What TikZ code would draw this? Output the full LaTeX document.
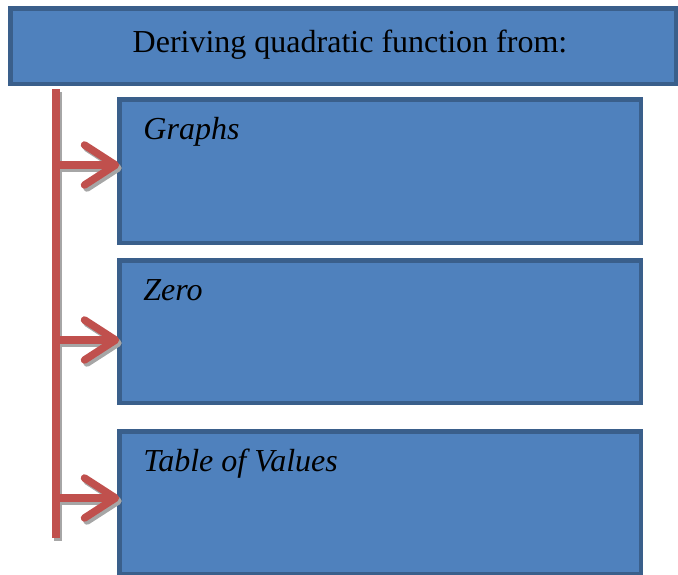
\documentclass[tikz,border=0pt]{standalone}
\usepackage{fontspec}
\setmainfont{Liberation Serif}
\usetikzlibrary{arrows.meta,positioning,calc}
\definecolor{boxfill}{HTML}{4F81BD}
\definecolor{boxedge}{HTML}{3A5F8B}
\definecolor{linkred}{HTML}{C0504D}
\definecolor{shadowgray}{HTML}{A6A6A6}

\begin{document}
\begin{tikzpicture}[x=1pt, y=-1pt,
    panel/.style={draw=boxedge, fill=boxfill, line width=4.5pt, inner sep=0pt, outer sep=0pt},
    caption/.style={anchor=base west, inner sep=0pt, font=\fontsize{32}{38}\selectfont\itshape},
    link/.style={linkred, line width=7.5pt, -{Straight Barb[length=31pt, width=40pt, round]}},
    linkshadow/.style={shadowgray, line width=7.5pt, -{Straight Barb[length=31pt, width=40pt, round]},
      transform canvas={shift={(2.5,3)}}}]
    \useasboundingbox (0,0) rectangle (678,574);
    % --- title bar ---
    \node[panel, minimum width=665.5pt, minimum height=75.5pt] (title) at (343,46) {};
    \node[anchor=base, inner sep=0pt, font=\fontsize{32}{38}\selectfont] (titletext) at (350,52)
      {Deriving quadratic function from:};
    % --- the three panels ---
    \node[panel, minimum width=521.5pt, minimum height=143.5pt] (graphs) at (380,171) {};
    \node[panel, minimum width=521.5pt, minimum height=142.5pt] (zero) at (380,331.5) {};
    \node[panel, minimum width=521.5pt, minimum height=142.5pt] (values) at (380,502.5) {};
    \node[caption] (graphslabel) at ([xshift=24pt, yshift=-40pt]graphs.north west) {Graphs};
    \node[caption] (zerolabel) at ([xshift=24pt, yshift=-40pt]zero.north west) {Zero};
    \node[caption] (valueslabel) at ([xshift=24pt, yshift=-40pt]values.north west) {Table of Values};
    % --- spine ---
    \coordinate (spinetop) at (56,89);
    \coordinate (spinebot) at (56,538);
    \draw[shadowgray, line width=8pt, transform canvas={shift={(1.5,3)}}] (spinetop) -- (spinebot);
    \draw[linkred, line width=8pt] (spinetop) -- (spinebot);
    % --- connectors ---
    \foreach \y/\target in {165/graphs, 340/zero, 498/values} {
      \coordinate (from-\target) at (57,\y);
      \draw[linkshadow] (from-\target) -- (from-\target -| \target.west);
      \draw[link] (from-\target) -- (from-\target -| \target.west);
    }
\end{tikzpicture}
\end{document}
